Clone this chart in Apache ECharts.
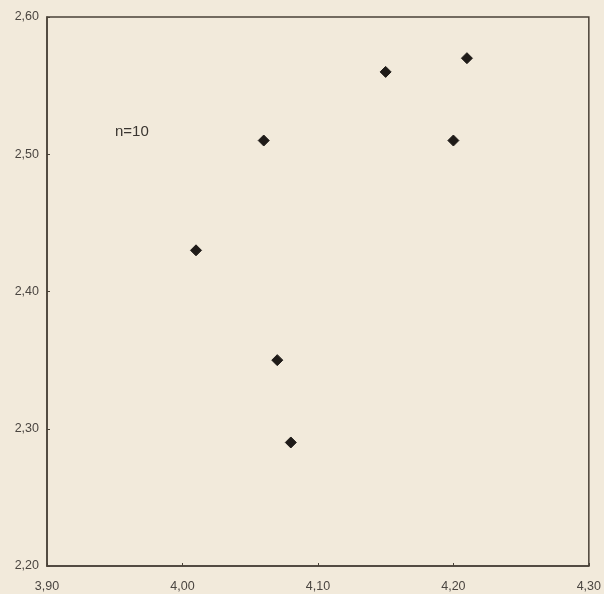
<!DOCTYPE html>
<html>
<head>
<meta charset="utf-8">
<script src="https://cdn.jsdelivr.net/npm/echarts@6/dist/echarts.min.js"></script>
<style>
html,body{margin:0;padding:0;background:#f2eadb;}
#chart{width:604px;height:594px;}
</style>
</head>
<body>
<div id="chart"></div>
<script>
const xValues = [4.01, 4.06, 4.07, 4.08, 4.15, 4.20, 4.21];
const yValues = [2.43, 2.51, 2.35, 2.29, 2.56, 2.51, 2.57];
const annotation = 'n=10';

const points = xValues.map((x, i) => [x, yValues[i]]);
const fmt = v => Number(v).toFixed(2).replace('.', ',');

const chart = echarts.init(document.getElementById('chart'));
chart.setOption({
  backgroundColor: '#f2eadb',
  animation: false,
  grid: {
    left: 47, right: 13, top: 17, bottom: 28,
    show: true, borderColor: '#4a4238', borderWidth: 1.5,
    backgroundColor: 'transparent'
  },
  xAxis: {
    type: 'value', min: 3.9, max: 4.3, interval: 0.1,
    axisLine: { show: true, lineStyle: { color: '#4a4238', width: 1.5 } },
    axisTick: { show: true, inside: true, length: 3, lineStyle: { color: '#4a4238' } },
    splitLine: { show: false },
    axisLabel: { formatter: fmt, color: '#4a4540', fontSize: 12.5, fontFamily: 'Liberation Sans, Arial', margin: 14 }
  },
  yAxis: {
    type: 'value', min: 2.2, max: 2.6, interval: 0.1,
    axisLine: { show: true, lineStyle: { color: '#4a4238', width: 1.5 } },
    axisTick: { show: true, inside: true, length: 3, lineStyle: { color: '#4a4238' } },
    splitLine: { show: false },
    axisLabel: { formatter: fmt, color: '#4a4540', fontSize: 12.5, fontFamily: 'Liberation Sans, Arial', margin: 8 }
  },
  graphic: [{
    type: 'text', left: 115, top: 124,
    style: { text: annotation, fill: '#3a3530', fontSize: 15, fontFamily: 'Liberation Sans, Arial' }
  }],
  series: [{
    type: 'scatter',
    data: points,
    symbol: 'diamond',
    symbolSize: [11, 11],
    itemStyle: { color: '#1f1b18', borderColor: '#1f1b18', borderWidth: 1, opacity: 1 }
  }]
});
</script>
</body>
</html>
